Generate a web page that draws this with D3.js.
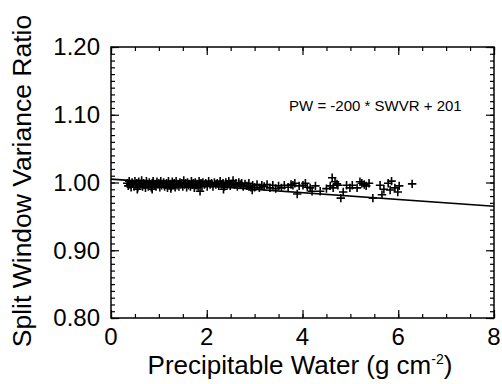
<!DOCTYPE html>
<html>
<head>
<meta charset="utf-8">
<script src="https://cdn.jsdelivr.net/npm/d3@7"></script>
<style>
  body { margin: 0; background: #fff; }
  svg { display: block; }
</style>
</head>
<body>
<svg id="chart"></svg>
<script>
// precipitable water (g cm^-2) of each sample
const pw = [
  0.34, 0.36, 0.38, 0.40, 0.42, 0.44, 0.46, 0.48, 0.50, 0.52, 0.54, 0.56, 0.58, 0.60, 0.62, 0.64,
  0.66, 0.68, 0.70, 0.72, 0.74, 0.76, 0.78, 0.80, 0.82, 0.84, 0.86, 0.88, 0.90, 0.92, 0.94, 0.96,
  0.98, 1.00, 1.02, 1.04, 1.06, 1.08, 1.10, 1.12, 1.14, 1.16, 1.18, 1.20, 1.22, 1.24, 1.26, 1.28,
  1.30, 1.32, 1.34, 1.36, 1.38, 1.40, 1.42, 1.44, 1.46, 1.48, 1.50, 1.52, 1.54, 1.56, 1.58, 1.60,
  1.62, 1.64, 1.66, 1.68, 1.70, 1.72, 1.74, 1.76, 1.78, 1.80, 1.82, 1.84, 1.86, 1.88, 1.90, 1.92,
  1.95, 1.98, 2.01, 2.04, 2.07, 2.10, 2.13, 2.16, 2.19, 2.22, 2.25, 2.28, 2.31, 2.34, 2.37, 2.40,
  2.43, 2.46, 2.49, 2.52, 2.55, 2.58, 2.61, 2.64, 2.67, 2.70, 2.73, 2.76, 2.80, 2.84, 2.88, 2.92,
  2.96, 3.00, 3.05, 3.10, 3.15, 3.20, 3.26, 3.32, 3.38, 3.44, 3.50, 3.56, 3.62, 3.70, 3.76,
  0.86, 1.86, 2.95, 0.55, 1.25, 2.35,
  3.80, 3.84, 3.89, 3.93, 4.01, 4.06, 4.10, 4.16, 4.20, 4.27, 4.37, 4.50, 4.58, 4.62, 4.64, 4.68,
  4.72, 4.74, 4.80, 4.85, 4.92, 4.99, 5.04, 5.14, 5.20, 5.24, 5.29, 5.33, 5.39, 5.47, 5.62, 5.66,
  5.70, 5.79, 5.83, 5.86, 5.93, 5.99, 6.02, 6.29
]
// split window variance ratio of each sample
const swvr = [
  0.999, 0.995, 1.002, 0.997, 0.993, 1.000, 0.998, 0.994, 1.002, 0.997, 0.999, 0.993, 1.001, 0.996, 0.998, 1.003,
  0.994, 0.999, 0.997, 0.992, 1.002, 0.998, 0.994, 1.000, 0.997, 0.993, 0.999, 1.002, 0.995, 0.998, 0.994, 1.001,
  0.997, 0.999, 0.993, 1.002, 0.996, 0.998, 1.000, 0.994, 0.997, 0.999, 0.992, 1.002, 0.996, 0.998, 0.994, 1.001,
  0.997, 0.999, 0.993, 1.002, 0.996, 0.998, 0.994, 1.000, 0.997, 0.999, 0.994, 1.003, 0.997, 0.999, 0.993, 1.000,
  0.996, 0.998, 0.994, 1.002, 0.997, 0.999, 0.992, 1.000, 0.996, 0.998, 0.994, 1.002, 0.997, 0.999, 0.994, 1.000,
  0.997, 0.999, 0.994, 1.002, 0.997, 0.999, 0.994, 1.000, 0.997, 0.999, 0.995, 1.002, 0.997, 0.999, 0.994, 1.000,
  0.997, 1.002, 0.995, 0.998, 1.003, 0.997, 0.999, 0.994, 1.000, 0.997, 0.999, 0.994, 0.998, 0.995, 0.999, 0.993,
  0.996, 0.993, 0.997, 0.992, 0.996, 0.994, 0.997, 0.992, 0.996, 0.991, 0.995, 0.992, 0.996, 0.993, 0.997,
  0.990, 0.987, 0.989, 0.990, 0.991, 0.990,
  0.996, 0.999, 0.983, 0.995, 0.996, 0.999, 0.993, 0.992, 0.987, 0.995, 0.987, 0.991, 0.995, 1.007, 0.992, 1.001,
  0.998, 0.996, 0.977, 0.986, 0.996, 0.992, 0.996, 0.992, 1.001, 0.999, 0.997, 0.995, 0.999, 0.977, 0.996, 0.982,
  0.990, 0.999, 0.989, 1.002, 0.992, 0.986, 0.995, 0.998
]

// PW = -200 * SWVR + 201
const fitSlope = -200
const fitIntercept = 201
const fitRange = [0, 8]

const xTicks = [0, 2, 4, 6, 8]
const yTicks = [0.8, 0.9, 1.0, 1.1, 1.2]
const annotation = 'PW = -200 * SWVR + 201'

const W = 502
const H = 384
const margin = { top: 47, right: 8, bottom: 66, left: 111 }
const width = W - margin.left - margin.right
const height = H - margin.top - margin.bottom
const font = '"Liberation Sans", Arial, Helvetica, sans-serif'

const x = d3.scaleLinear().domain([0, 8]).range([0, width])
const y = d3.scaleLinear().domain([0.8, 1.2]).range([height, 0])

const svg = d3.select('#chart').attr('width', W).attr('height', H)
const g = svg.append('g').attr('transform', `translate(${margin.left},${margin.top})`)

// minor ticks first, majors drawn longer on top
const xMinor = d3.range(0, 8.001, 0.5)
const yMinor = d3.range(0.8, 1.2001, 0.01)

// ticks point inward on all four sides (IDL style)
const addTicks = (axis, ticks, size, pos) =>
  g.append('g')
    .attr('transform', pos)
    .call(axis.tickValues(ticks).tickSize(size).tickFormat(''))
    .call((a) => a.select('.domain').remove())
    .call((a) => a.selectAll('line').attr('stroke', '#000').attr('stroke-width', 1.2))

addTicks(d3.axisTop(x), xMinor, 4, `translate(0,${height})`)
addTicks(d3.axisTop(x), xTicks, 8, `translate(0,${height})`)
addTicks(d3.axisBottom(x), xMinor, 4, 'translate(0,0)')
addTicks(d3.axisBottom(x), xTicks, 8, 'translate(0,0)')
addTicks(d3.axisRight(y), yMinor, 4, 'translate(0,0)')
addTicks(d3.axisRight(y), yTicks, 8, 'translate(0,0)')
addTicks(d3.axisLeft(y), yMinor, 4, `translate(${width},0)`)
addTicks(d3.axisLeft(y), yTicks, 8, `translate(${width},0)`)

// frame
g.append('rect')
  .attr('width', width)
  .attr('height', height)
  .attr('fill', 'none')
  .attr('stroke', '#000')
  .attr('stroke-width', 1.5)

// tick labels
g.append('g')
  .selectAll('text')
  .data(xTicks)
  .join('text')
  .attr('x', (d) => x(d))
  .attr('y', height + 27)
  .attr('text-anchor', 'middle')
  .style('font-family', font)
  .style('font-size', '24px')
  .text((d) => d)

g.append('g')
  .selectAll('text')
  .data(yTicks)
  .join('text')
  .attr('x', -11)
  .attr('y', (d) => y(d))
  .attr('dy', '0.35em')
  .attr('text-anchor', 'end')
  .style('font-family', font)
  .style('font-size', '24px')
  .text((d) => d.toFixed(2))

// axis titles
const xTitle = svg.append('text')
  .attr('x', 300)
  .attr('y', H - 10)
  .attr('text-anchor', 'middle')
  .style('font-family', font)
  .style('font-size', '26px')
xTitle.append('tspan').text('Precipitable Water (g cm')
xTitle.append('tspan').attr('dy', -10).style('font-size', '14px').text('-2')
xTitle.append('tspan').attr('dy', 10).text(')')

svg.append('text')
  .attr('transform', `translate(31,181) rotate(-90)`)
  .attr('text-anchor', 'middle')
  .style('font-family', font)
  .style('font-size', '26.5px')
  .text('Split Window Variance Ratio')

// fit line
const fitLine = d3.line()
  .x((d) => x(d))
  .y((d) => y((fitIntercept - d) / -fitSlope))

g.append('path')
  .datum(fitRange)
  .attr('fill', 'none')
  .attr('stroke', '#000')
  .attr('stroke-width', 1.6)
  .attr('d', fitLine)

// samples as plus markers
g.append('g')
  .selectAll('path')
  .data(pw.map((d, i) => [d, swvr[i]]))
  .join('path')
  .attr('transform', (d) => `translate(${x(d[0])},${y(d[1])})`)
  .attr('d', 'M-4.2,0H4.2M0,-4.2V4.2')
  .attr('fill', 'none')
  .attr('stroke', '#000')
  .attr('stroke-width', 1.6)

g.append('text')
  .attr('x', x(3.72))
  .attr('y', y(1.106))
  .style('font-family', font)
  .style('font-size', '15px')
  .text(annotation)
</script>
</body>
</html>
